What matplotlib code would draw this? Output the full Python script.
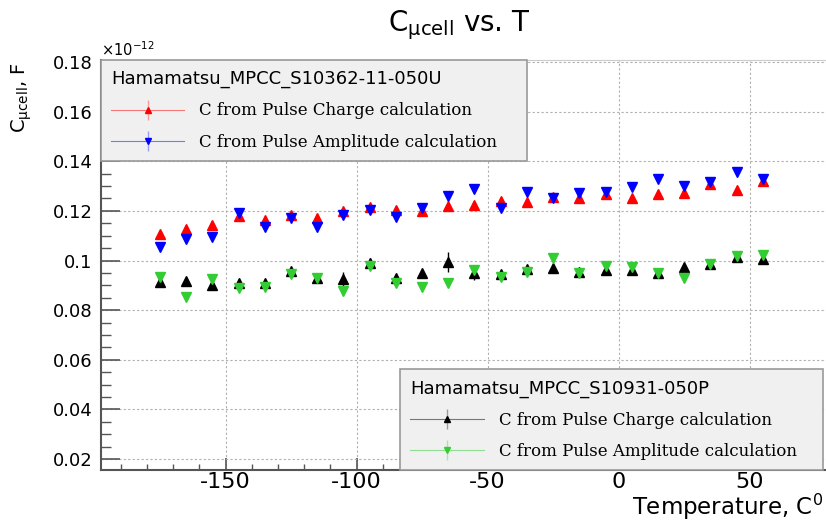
import matplotlib
matplotlib.use("Agg")
import matplotlib.pyplot as plt
from matplotlib.lines import Line2D
from matplotlib.legend_handler import HandlerTuple
from matplotlib.ticker import MultipleLocator, FuncFormatter

# temperature, C
temp = [-175, -165, -155, -145, -135, -125, -115, -105, -95, -85, -75, -65,
        -55, -45, -35, -25, -15, -5, 5, 15, 25, 35, 45, 55]

# C_ucell in units of 1e-12 F
# Hamamatsu_MPCC_S10362-11-050U
s10362_charge = [0.1107, 0.1127, 0.1143, 0.1178, 0.1163, 0.1183, 0.1171, 0.1200,
                 0.1216, 0.1203, 0.1200, 0.1220, 0.1224, 0.1240, 0.1236, 0.1256,
                 0.1252, 0.1268, 0.1252, 0.1268, 0.1272, 0.1308, 0.1284, 0.1320]
s10362_ampl = [0.1053, 0.1085, 0.1095, 0.1191, 0.1135, 0.1171, 0.1135, 0.1183,
               0.1203, 0.1175, 0.1212, 0.1260, 0.1288, 0.1212, 0.1276, 0.1252,
               0.1272, 0.1276, 0.1296, 0.1328, 0.1300, 0.1316, 0.1357, 0.1328]
# Hamamatsu_MPCC_S10931-050P
s10931_charge = [0.0913, 0.0917, 0.0901, 0.0909, 0.0909, 0.0958, 0.0929, 0.0925,
                 0.0990, 0.0929, 0.0950, 0.0994, 0.0950, 0.0945, 0.0966, 0.0970,
                 0.0954, 0.0962, 0.0962, 0.0950, 0.0974, 0.0986, 0.1014, 0.1006]
s10931_ampl = [0.0933, 0.0853, 0.0925, 0.0889, 0.0893, 0.0945, 0.0929, 0.0877,
               0.0978, 0.0909, 0.0893, 0.0909, 0.0962, 0.0933, 0.0954, 0.1010,
               0.0950, 0.0978, 0.0974, 0.0950, 0.0929, 0.0986, 0.1018, 0.1022]
err_small = [0.0007] * len(temp)
s10931_charge_err = [0.0012, 0.0010, 0.0010, 0.0010, 0.0010, 0.0012, 0.0008, 0.0030,
                     0.0022, 0.0010, 0.0012, 0.0040, 0.0027, 0.0010, 0.0010, 0.0008,
                     0.0008, 0.0008, 0.0008, 0.0008, 0.0010, 0.0010, 0.0008, 0.0012]

RED, BLUE, BLACK, GREEN = "#ff0000", "#0000ff", "#000000", "#33cc33"
SANS, SERIF = "DejaVu Sans", "DejaVu Serif"

plt.rcParams.update({"font.family": SANS, "mathtext.fontset": "dejavusans"})

fig = plt.figure(figsize=(8.26, 5.21), dpi=100)
ax = fig.add_axes([0.1223, 0.0979, 0.89, 0.7869])

series = [
    (s10362_charge, err_small, RED, "^"),
    (s10362_ampl, err_small, BLUE, "v"),
    (s10931_charge, s10931_charge_err, BLACK, "^"),
    (s10931_ampl, err_small, GREEN, "v"),
]
for vals, err, col, mk in series:
    ax.errorbar(temp, vals, yerr=err, fmt=mk, color=col, ms=6.5, elinewidth=1,
                capsize=0, zorder=3)

ax.set_xlim(-197.5, 83.0)
ax.set_ylim(0.0156, 0.1808)
ax.xaxis.set_major_locator(MultipleLocator(50))
ax.xaxis.set_minor_locator(MultipleLocator(10))
ax.xaxis.set_major_formatter(FuncFormatter(lambda v, _: f"{v:g}"))
ax.yaxis.set_major_locator(MultipleLocator(0.02))
ax.yaxis.set_minor_locator(MultipleLocator(0.005))
ax.yaxis.set_major_formatter(FuncFormatter(lambda v, _: f"{v:g}"))
ax.tick_params(axis="y", which="major", direction="in", length=14, width=1.2,
               labelsize=13, pad=6, color="#555555")
ax.tick_params(axis="y", which="minor", direction="in", length=7, width=1,
               color="#555555")
ax.tick_params(axis="x", which="major", direction="in", length=8.5, width=1.2,
               labelsize=16, pad=1.5, color="#555555")
ax.tick_params(axis="x", which="minor", direction="in", length=4.3, width=1,
               color="#555555")
ax.grid(True, which="major", ls=(0, (2, 2)), color="#b0b0b0", lw=0.8)
ax.set_axisbelow(True)
for s in ("left", "bottom"):
    ax.spines[s].set_color("#555555")
    ax.spines[s].set_linewidth(1.5)
ax.spines["top"].set_color("#cccccc")
ax.spines["right"].set_visible(False)

fig.text(0.556, 1 - 25 / 521, r"C$_{\mathrm{μcell}}$ vs. T", ha="center",
         va="center", fontsize=20)
fig.text(22 / 826, 1 - 98 / 521, r"C$_{\mathrm{μcell}}$, F", rotation=90,
         ha="center", va="center", fontsize=14)
fig.text(101 / 826, 1 - 50 / 521, r"$\times$10$^{-12}$", ha="left", va="center",
         fontsize=10.5)
fig.text(0.997, 1 - 515 / 521, r"Temperature, C$^{0}$", ha="right", va="baseline",
         fontsize=16.5)


def handle(col, mk):
    return (Line2D([], [], color=col, lw=0.8, alpha=0.5),
            Line2D([], [], ls="none", marker="|", ms=14, mew=1, color=col, alpha=0.35),
            Line2D([], [], ls="none", marker=mk, ms=5, color=col))


leg_kw = dict(prop={"family": SERIF, "size": 12},
              title_fontproperties={"family": SANS, "size": 13},
              alignment="left", mode="expand", borderaxespad=0, borderpad=0.6,
              handlelength=4.4, handletextpad=0.9, labelspacing=0.85,
              fancybox=False, framealpha=1, facecolor="#f0f0f0",
              edgecolor="#999999", handler_map={tuple: HandlerTuple(ndivide=1)})

leg1 = ax.legend([handle(RED, "^"), handle(BLUE, "v")],
                 ["C from Pulse Charge calculation", "C from Pulse Amplitude calculation"],
                 title="Hamamatsu_MPCC_S10362-11-050U", loc="upper left",
                 bbox_to_anchor=(0, 0, 0.58, 1), **leg_kw)
leg1.get_frame().set_linewidth(1.2)
ax.add_artist(leg1)
leg2 = ax.legend([handle(BLACK, "^"), handle(GREEN, "v")],
                 ["C from Pulse Charge calculation", "C from Pulse Amplitude calculation"],
                 title="Hamamatsu_MPCC_S10931-050P", loc="lower left",
                 bbox_to_anchor=(0.407, 0, 0.575, 1), **leg_kw)
leg2.get_frame().set_linewidth(1.2)

fig.savefig("out.png", dpi=100)
